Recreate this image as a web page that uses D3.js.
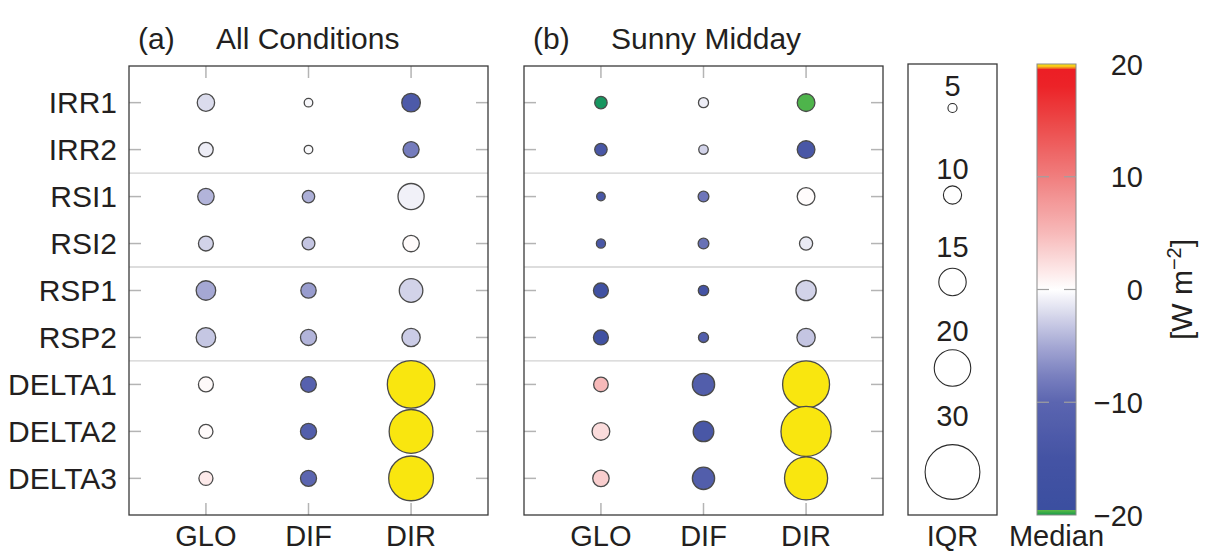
<!DOCTYPE html>
<html>
<head>
<meta charset="utf-8">
<script src="https://cdn.jsdelivr.net/npm/d3@7/dist/d3.min.js"></script>
<style>
  html, body { margin: 0; padding: 0; background: #fff; }
  svg { display: block; }
  text { font-family: "Liberation Sans", Arial, Helvetica, sans-serif; fill: #231f20; }
</style>
</head>
<body>
<svg id="chart" width="1205" height="553"></svg>
<script>
// Instruments (rows) and irradiance components (columns)
const instruments = ["IRR1", "IRR2", "RSI1", "RSI2", "RSP1", "RSP2", "DELTA1", "DELTA2", "DELTA3"];
const components = ["GLO", "DIF", "DIR"];
// Instrument groups start at these rows (a thin rule is drawn above each)
const groupStarts = ["RSI1", "RSP1", "DELTA1"];

// (a) All conditions: median deviation [W m-2], one row per instrument: GLO, DIF, DIR
const allMedian = [
  [-2.0, -0.4, -13.0],
  [-1.0, -0.3, -8.0],
  [-4.3, -4.6, -0.8],
  [-2.5, -3.3, 0.3],
  [-5.0, -5.8, -2.5],
  [-3.2, -4.3, -2.9],
  [0.4, -11.0, 26.0],
  [0.3, -12.0, 25.0],
  [1.5, -10.0, 24.0]
];
// (a) All conditions: interquartile range [W m-2]
const allIQR = [
  [9.5, 4.7, 10.2],
  [8.0, 4.7, 8.8],
  [9.0, 6.8, 14.3],
  [8.2, 7.0, 9.0],
  [10.7, 8.4, 12.9],
  [10.7, 8.8, 10.0],
  [8.2, 8.6, 26.0],
  [7.7, 8.8, 24.0],
  [7.7, 8.8, 24.5]
];
// (b) Sunny midday: median deviation [W m-2]
const sunnyMedian = [
  [-35.0, -1.0, -23.0],
  [-14.0, -2.5, -14.0],
  [-14.0, -8.5, 0.2],
  [-14.0, -9.0, -1.2],
  [-17.0, -15.0, -2.5],
  [-17.0, -12.0, -3.3],
  [5.0, -12.0, 27.0],
  [2.5, -14.0, 28.0],
  [3.5, -12.0, 25.0]
];
// (b) Sunny midday: interquartile range [W m-2]
const sunnyIQR = [
  [6.8, 5.5, 9.7],
  [6.8, 5.2, 9.7],
  [4.7, 5.9, 9.7],
  [5.0, 5.9, 7.2],
  [8.2, 5.7, 11.1],
  [8.2, 5.5, 10.0],
  [8.0, 12.2, 25.7],
  [9.7, 11.3, 27.5],
  [9.0, 12.2, 23.6]
];

const iqrLegendValues = [5, 10, 15, 20, 30];
const colorbarTicks = [20, 10, 0, -10, -20];
const medianRange = [-20, 20];

// ---------------------------------------------------------------
const svg = d3.select("#chart");
const frameColor = "#3a3a3a";
const tickColor = "#b4b4b4";
const ruleColor = "#d2d2d2";
const fontSize = 30;
const bottomLabelSize = 29;
const bottomBaseline = 546;

// Diverging colour map: blue (negative) - white - red (positive)
const colorScale = d3.scaleLinear()
  .domain([-20, -15, -10, -7.5, -5, -2.5, 0, 2.5, 5, 10, 15, 18, 20])
  .range(["#3a4e9f", "#4453a4", "#5b65b0", "#7c82c0", "#a5a8d4", "#d2d3e9", "#ffffff",
          "#fbdcdc", "#f7b9b9", "#f07e7e", "#ec4646", "#ec2328", "#ec1c24"])
  .interpolate(d3.interpolateRgb)
  .clamp(true);
const overColor = "#f9e60f";
const underScale = d3.scaleLinear().domain([-20, -40]).range(["#5cbb46", "#008a68"]).clamp(true);
function fillFor(v) {
  if (v > medianRange[1]) return overColor;
  if (v < medianRange[0]) return underScale(v);
  return colorScale(v);
}

// Circle radius grows linearly with the IQR
const rScale = d3.scaleLinear().domain([0, 30]).range([0, 27.4]);

const yScale = d3.scalePoint().domain(instruments).range([66, 515]).padding(0.78);

function drawPanel(left, right, medians, iqrs, tag, title, showRowLabels) {
  const top = 66, bottom = 515;
  const x = d3.scalePoint().domain(components).range([left, right]).padding(0.75);
  const g = svg.append("g");

  // group separators
  const step = yScale.step();
  g.selectAll("line.rule").data(groupStarts).join("line")
    .attr("class", "rule")
    .attr("x1", left).attr("x2", right)
    .attr("y1", d => yScale(d) - step / 2).attr("y2", d => yScale(d) - step / 2)
    .attr("stroke", ruleColor).attr("stroke-width", 1.3);

  // inward ticks on all four sides
  const tl = 12;
  g.selectAll("line.tx").data(components.flatMap(c => [[c, top, top + tl], [c, bottom, bottom - tl]])).join("line")
    .attr("x1", d => x(d[0])).attr("x2", d => x(d[0]))
    .attr("y1", d => d[1]).attr("y2", d => d[2])
    .attr("stroke", tickColor).attr("stroke-width", 1.5);
  g.selectAll("line.ty").data(instruments.flatMap(r => [[r, left, left + tl], [r, right, right - tl]])).join("line")
    .attr("y1", d => yScale(d[0])).attr("y2", d => yScale(d[0]))
    .attr("x1", d => d[1]).attr("x2", d => d[2])
    .attr("stroke", tickColor).attr("stroke-width", 1.5);

  // frame
  g.append("rect")
    .attr("x", left).attr("y", top).attr("width", right - left).attr("height", bottom - top)
    .attr("fill", "none").attr("stroke", frameColor).attr("stroke-width", 1.3);

  // bubbles
  const cells = [];
  instruments.forEach((inst, i) => components.forEach((comp, j) => {
    cells.push({ inst, comp, median: medians[i][j], iqr: iqrs[i][j] });
  }));
  g.selectAll("circle").data(cells).join("circle")
    .attr("cx", d => x(d.comp))
    .attr("cy", d => yScale(d.inst))
    .attr("r", d => rScale(d.iqr))
    .attr("fill", d => fillFor(d.median))
    .attr("stroke", "#4a4a4a")
    .attr("stroke-width", 1.3);

  // column labels
  g.selectAll("text.col").data(components).join("text")
    .attr("x", d => x(d)).attr("y", bottomBaseline)
    .attr("text-anchor", "middle").attr("font-size", bottomLabelSize)
    .text(d => d);

  // row labels
  if (showRowLabels) {
    g.selectAll("text.row").data(instruments).join("text")
      .attr("x", left - 12).attr("y", d => yScale(d) + 10.8)
      .attr("text-anchor", "end").attr("font-size", fontSize)
      .text(d => d);
  }

  // title
  g.append("text").attr("x", left + 9).attr("y", 49).attr("font-size", fontSize).text(tag);
  g.append("text").attr("x", left + 87).attr("y", 49).attr("font-size", fontSize).text(title);
}

drawPanel(129, 488, allMedian, allIQR, "(a)", "All Conditions", true);
drawPanel(524, 883, sunnyMedian, sunnyIQR, "(b)", "Sunny Midday", false);

// ---------------- IQR size legend ----------------
const lg = svg.append("g");
const lgLeft = 908, lgRight = 997, lgTop = 64, lgBottom = 515;
const lgCx = (lgLeft + lgRight) / 2;
lg.append("rect")
  .attr("x", lgLeft).attr("y", lgTop).attr("width", lgRight - lgLeft).attr("height", lgBottom - lgTop)
  .attr("fill", "none").attr("stroke", frameColor).attr("stroke-width", 1.3);
// slot layout: circle centres, each label sits above its circle
const legendCentres = [108, 195, 282, 368, 472];
const legendLabelGap = [7, 7, 11, 9, 19];
const legendItems = iqrLegendValues.map((v, i) => ({ v, cy: legendCentres[i], gap: legendLabelGap[i] }));
lg.selectAll("circle").data(legendItems).join("circle")
  .attr("cx", lgCx).attr("cy", d => d.cy).attr("r", d => rScale(d.v))
  .attr("fill", "#fff").attr("stroke", "#2a2a2a").attr("stroke-width", 1.1);
lg.selectAll("text.v").data(legendItems).join("text")
  .attr("x", lgCx).attr("y", d => d.cy - rScale(d.v) - d.gap)
  .attr("text-anchor", "middle").attr("font-size", 29)
  .text(d => d.v);
lg.append("text").attr("x", lgCx).attr("y", bottomBaseline).attr("text-anchor", "middle")
  .attr("font-size", bottomLabelSize).text("IQR");

// ---------------- Colour bar ----------------
const cb = svg.append("g");
const cbLeft = 1037, cbRight = 1076, cbTop = 64, cbBottom = 515;
const cbY = d3.scaleLinear().domain(medianRange).range([cbBottom, cbTop]);
const defs = svg.append("defs");
const grad = defs.append("linearGradient").attr("id", "medianGrad")
  .attr("x1", 0).attr("y1", 1).attr("x2", 0).attr("y2", 0);
d3.range(-20, 20.01, 0.5).forEach(v => {
  grad.append("stop").attr("offset", (v + 20) / 40).attr("stop-color", colorScale(v));
});
cb.append("rect")
  .attr("x", cbLeft).attr("y", cbTop).attr("width", cbRight - cbLeft).attr("height", cbBottom - cbTop)
  .attr("fill", "url(#medianGrad)");
// out-of-range indicators at both ends
const overGrad = defs.append("linearGradient").attr("id", "overGrad").attr("x1", 0).attr("y1", 0).attr("x2", 0).attr("y2", 1);
overGrad.append("stop").attr("offset", 0).attr("stop-color", overColor);
overGrad.append("stop").attr("offset", 0.5).attr("stop-color", "#f7c21a");
overGrad.append("stop").attr("offset", 1).attr("stop-color", "#ee4a22");
cb.append("rect").attr("x", cbLeft).attr("y", cbTop).attr("width", cbRight - cbLeft).attr("height", 5)
  .attr("fill", "url(#overGrad)");
const underGrad = defs.append("linearGradient").attr("id", "underGrad").attr("x1", 0).attr("y1", 0).attr("x2", 0).attr("y2", 1);
underGrad.append("stop").attr("offset", 0).attr("stop-color", "#5cbb46");
underGrad.append("stop").attr("offset", 1).attr("stop-color", "#159a4a");
cb.append("rect").attr("x", cbLeft).attr("y", cbBottom - 5).attr("width", cbRight - cbLeft).attr("height", 5)
  .attr("fill", "url(#underGrad)");
cb.append("rect")
  .attr("x", cbLeft).attr("y", cbTop).attr("width", cbRight - cbLeft).attr("height", cbBottom - cbTop)
  .attr("fill", "none").attr("stroke", "#8a8a8a").attr("stroke-width", 1);
// inner tick marks
const innerTicks = colorbarTicks.filter(t => t > medianRange[0] && t < medianRange[1]);
cb.selectAll("line.tk").data(innerTicks.flatMap(t => [[t, cbLeft, cbLeft + 12], [t, cbRight, cbRight - 12]])).join("line")
  .attr("x1", d => d[1]).attr("x2", d => d[2])
  .attr("y1", d => cbY(d[0])).attr("y2", d => cbY(d[0]))
  .attr("stroke", "#a0a0a0").attr("stroke-width", 1.2);
cb.selectAll("text.tl").data(colorbarTicks).join("text")
  .attr("x", 1143).attr("y", d => cbY(d) + 10.5)
  .attr("text-anchor", "end").attr("font-size", 29)
  .text(d => d < 0 ? "\u2212" + Math.abs(d) : String(d));
cb.append("text").attr("x", (cbLeft + cbRight) / 2).attr("y", bottomBaseline).attr("text-anchor", "middle")
  .attr("font-size", bottomLabelSize).text("Median");

// unit label
const unit = cb.append("text")
  .attr("transform", `translate(1192,${cbY(0)}) rotate(-90)`)
  .attr("text-anchor", "middle").attr("font-size", fontSize);
unit.append("tspan").text("[W m");
unit.append("tspan").attr("font-size", 20).attr("dy", -11).text("\u22122");
unit.append("tspan").attr("dy", 11).text("]");
</script>
</body>
</html>
